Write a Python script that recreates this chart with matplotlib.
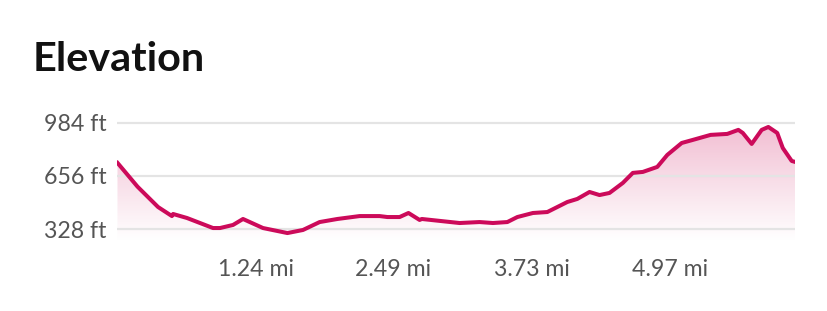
import matplotlib
matplotlib.use("Agg")
import matplotlib.pyplot as plt
import numpy as np
from matplotlib.colors import LinearSegmentedColormap

# distance along the trail (miles) and elevation (feet)
dist_mi = [0.0, 0.18, 0.365, 0.49, 0.50, 0.626, 0.86, 0.923, 1.04, 1.13, 1.31, 1.53,
           1.67, 1.82, 1.98, 2.18, 2.36, 2.43, 2.54, 2.62, 2.72, 2.74, 3.08, 3.26,
           3.38, 3.51, 3.60, 3.74, 3.87, 4.05, 4.14, 4.25, 4.34, 4.43, 4.55, 4.64,
           4.73, 4.86, 4.95, 5.08, 5.18, 5.34, 5.49, 5.59, 5.63, 5.71, 5.80, 5.86,
           5.94, 5.99, 6.07, 6.10]
elev_ft = [737, 590, 464, 408, 421, 396, 334, 334, 353, 390, 334, 303,
           322, 371, 390, 408, 408, 402, 402, 427, 384, 390, 365, 371,
           365, 371, 402, 427, 433, 495, 514, 557, 538, 551, 613, 675,
           681, 712, 786, 860, 879, 910, 916, 941, 922, 854, 941, 959,
           922, 829, 749, 743]

y_ticks = [328, 656, 984]
y_labels = ["328 ft", "656 ft", "984 ft"]
x_ticks = [1.2427, 2.4855, 3.7282, 4.9710]
x_labels = ["1.24 mi", "2.49 mi", "3.73 mi", "4.97 mi"]

line_color = "#cc0a5a"
W, H = 828, 311

fig = plt.figure(figsize=(W / 100, H / 100), dpi=100)
ax = fig.add_axes([117.5 / W, (H - 240) / H, (795 - 117.5) / W, (240 - 115) / H])

ymin, ymax = 260, 1033
xmax = 6.10
ax.set_xlim(0, xmax)
ax.set_ylim(ymin, ymax)

# gradient fill under the line
cmap = LinearSegmentedColormap.from_list("fade", ["#ffffff", "#f0b5cc"])
grad = np.linspace(0, 1, 256).reshape(-1, 1)
img = ax.imshow(grad, extent=[0, xmax, ymin, ymax], origin="lower", aspect="auto",
                cmap=cmap, vmin=0, vmax=1.05, zorder=1)
poly = ax.fill_between(dist_mi, elev_ft, ymin, color="none", lw=0)
clip = poly.get_paths()[0]
img.set_clip_path(clip, transform=ax.transData)

for yt in y_ticks:
    ax.axhline(yt, color="#e4e4e4", lw=1.6, zorder=2)

ax.plot(dist_mi, elev_ft, color=line_color, lw=2.9, solid_joinstyle="round", zorder=3)

for s in ax.spines.values():
    s.set_visible(False)
ax.set_yticks(y_ticks)
ax.set_yticklabels(y_labels)
ax.set_xticks(x_ticks)
ax.set_xticklabels(x_labels)
ax.tick_params(length=0, labelsize=16.7, labelcolor="#555555")
ax.tick_params(axis="y", pad=8)
ax.tick_params(axis="x", pad=14)
for lab in ax.get_xticklabels() + ax.get_yticklabels():
    lab.set_family("Lato")

fig.text(33 / W, (H - 71) / H, "Elevation", family="Lato", weight="bold",
         fontsize=29.8, color="#111111", va="baseline", ha="left")

fig.savefig("out.png", dpi=100, facecolor="white")
